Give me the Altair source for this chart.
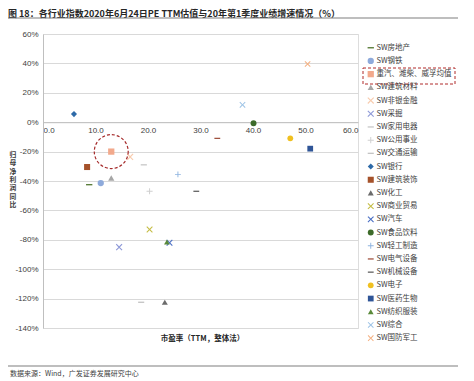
import math
import altair as alt
import pandas as pd

# ---------------- data ----------------
series = ["SW房地产", "SW钢铁", "重汽、潍柴、威孚均值", "SW建筑材料", "SW非银金融", "SW采掘",
          "SW家用电器", "SW公用事业", "SW交通运输", "SW银行", "SW建筑装饰", "SW化工",
          "SW商业贸易", "SW汽车", "SW食品饮料", "SW轻工制造", "SW电气设备", "SW机械设备",
          "SW电子", "SW医药生物", "SW纺织服装", "SW综合", "SW国防军工"]
pe = [8.8, 11.0, 13.0, 13.0, 16.6, 14.5,
      19.2, 20.3, 18.7, 5.9, 8.4, 23.2,
      20.3, 24.1, 40.1, 25.7, 33.2, 29.2,
      47.1, 50.9, 23.6, 38.0, 50.4]
growth = [-42.5, -41.4, -20.0, -38.0, -23.6, -85.0,
          -29.0, -47.0, -122.5, 5.5, -30.5, -122.5,
          -73.0, -82.0, -0.7, -35.5, -11.0, -47.0,
          -11.0, -18.0, -81.5, 11.8, 39.6]
x_ticks = [0, 10, 20, 30, 40, 50, 60]
y_ticks = [-140, -120, -100, -80, -60, -40, -20, 0, 20, 40, 60]
highlight = "重汽、潍柴、威孚均值"
title_text = "图 18：各行业指数2020年6月24日PE TTM估值与20年第1季度业绩增速情况（%）"
source_text = "数据来源：Wind，广发证券发展研究中心"
y_title = "归\n母\n净\n利\n润\n同\n比"
x_title = "市盈率（TTM，整体法）"

# ---------------- styles ----------------
def plus_pts(w, L):
    return [(-w, -L), (w, -L), (w, -w), (L, -w), (L, w), (w, w), (w, L), (-w, L),
            (-w, w), (-L, w), (-L, -w), (-w, -w)]

def to_path(pts):
    return "M" + "L".join(f"{x:.3f},{y:.3f}" for x, y in pts) + "Z"

PLUS = to_path(plus_pts(0.16, 1.0))
r2 = math.sqrt(2)
XSHAPE = to_path([((x - y) / r2, (x + y) / r2) for x, y in plus_pts(0.18, r2 * 0.95)])
DASH = "M-1,-0.22L1,-0.22L1,0.22L-1,0.22Z"

style = {
    "SW房地产": ("#5a7d3a", DASH, 40),
    "SW钢铁": ("#8eaadb", "circle", 32),
    "重汽、潍柴、威孚均值": ("#f2a98c", "square", 85),
    "SW建筑材料": ("#a6a6a6", "triangle-up", 36),
    "SW非银金融": ("#f8cbad", XSHAPE, 36),
    "SW采掘": ("#8f9ad8", XSHAPE, 50),
    "SW家用电器": ("#c9c9c9", DASH, 36),
    "SW公用事业": ("#d0d0d0", PLUS, 36),
    "SW交通运输": ("#c4c4c4", DASH, 36),
    "SW银行": ("#2e6aa8", "diamond", 32),
    "SW建筑装饰": ("#a5522a", "square", 40),
    "SW化工": ("#6b6b6b", "triangle-up", 36),
    "SW商业贸易": ("#c5bd45", XSHAPE, 40),
    "SW汽车": ("#4a6fc4", XSHAPE, 40),
    "SW食品饮料": ("#3d6b2a", "circle", 36),
    "SW轻工制造": ("#8fb4e0", PLUS, 36),
    "SW电气设备": ("#a0523f", DASH, 20),
    "SW机械设备": ("#5f5f5f", DASH, 40),
    "SW电子": ("#f0c020", "circle", 32),
    "SW医药生物": ("#2f5597", "square", 40),
    "SW纺织服装": ("#5a8a3a", "triangle-up", 36),
    "SW综合": ("#9dc3e6", XSHAPE, 40),
    "SW国防军工": ("#f4b183", XSHAPE, 40),
}
colors = [style[s][0] for s in series]
shapes = [style[s][1] for s in series]
sizes = [style[s][2] for s in series]

FONT = "Noto Sans CJK SC"
LATIN = "Liberation Sans"

df = pd.DataFrame({"series": series, "pe": pe, "growth": growth})

W, H = 315, 294
zero_offset = -H * (0 - (-140)) / 200.0  # move x axis to y=0 line

legend = alt.Legend(orient="none", legendX=324, legendY=10, title=None,
                    labelFont=FONT, labelFontSize=7.5, labelColor="#404040",
                    symbolSize=22, rowPadding=4.2, labelOffset=2, padding=0,
                    symbolStrokeWidth=0, labelLimit=200)

xenc = alt.X("pe:Q", scale=alt.Scale(domain=[0, 60], nice=False, zero=False),
             axis=alt.Axis(values=x_ticks, format=".1f", offset=zero_offset, grid=False,
                           domainColor="#bfbfbf", ticks=False, labelPadding=4,
                           labelOverlap=False,
                           labelFont=LATIN, labelFontSize=8, labelColor="#404040",
                           title=x_title, titleFont=FONT, titleFontSize=7.5,
                           titleFontWeight="bold", titleColor="#262626",
                           titleX=159, titleY=212, titleAnchor="middle"))
yenc = alt.Y("growth:Q", scale=alt.Scale(domain=[-140, 60], nice=False, zero=False),
             axis=alt.Axis(values=y_ticks, tickCount=11, labelExpr="datum.value + '%'",
                           grid=True, gridColor="#d9d9d9", domainColor="#bfbfbf",
                           ticks=False, labelOverlap=False, labelPadding=5,
                           labelFont=LATIN, labelFontSize=8, labelColor="#404040",
                           title=None))

points = alt.Chart(df).mark_point(filled=True, opacity=1, strokeWidth=0).encode(
    x=xenc, y=yenc,
    color=alt.Color("series:N", scale=alt.Scale(domain=series, range=colors), legend=legend),
    shape=alt.Shape("series:N", scale=alt.Scale(domain=series, range=shapes), legend=legend),
    size=alt.Size("series:N", scale=alt.Scale(domain=series, range=sizes), legend=None),
)

ring = alt.Chart(df).transform_filter(alt.datum.series == highlight).mark_point(
    shape="circle", filled=False, size=1150, stroke="#a52a2a", strokeWidth=1.2,
    strokeDash=[3, 2], opacity=1).encode(x=xenc, y=yenc)

one = pd.DataFrame({"t": [title_text], "s": [source_text], "yt": [y_title]})
box = alt.Chart(one).mark_rect(fill="transparent", stroke="#b02a2a", strokeWidth=1,
                               strokeDash=[3, 2]).encode(
    x=alt.value(320), x2=alt.value(412), y=alt.value(34), y2=alt.value(50))
title = alt.Chart(one).mark_text(align="left", baseline="middle", font=FONT, fontSize=9,
                                 fontWeight="bold", color="#262626").encode(
    text="t:N", x=alt.value(-35), y=alt.value(-20))
title_rule = alt.Chart(one).mark_rule(color="#7f7f7f", strokeWidth=1.2).encode(
    x=alt.value(-38), x2=alt.value(427), y=alt.value(-16))
ytitle = alt.Chart(one).mark_text(align="center", baseline="top", font=FONT, fontSize=6.8,
                                  fontWeight="bold", color="#404040", lineBreak="\n",
                                  lineHeight=8.3).encode(
    text="yt:N", x=alt.value(-30), y=alt.value(118))
src = alt.Chart(one).mark_text(align="left", baseline="middle", font=FONT, fontSize=7,
                               color="#404040").encode(
    text="s:N", x=alt.value(-33), y=alt.value(340))
src_rule = alt.Chart(one).mark_rule(color="#7f7f7f", strokeWidth=1.2).encode(
    x=alt.value(-38), x2=alt.value(427), y=alt.value(332))

chart = alt.layer(points, ring, box, title, title_rule, ytitle, src, src_rule).properties(
    width=W, height=H,
    autosize=alt.AutoSizeParams(type="none"),
    padding={"left": 35, "top": 26, "right": 100, "bottom": 50},
).configure_view(stroke=None).configure(background="white")

chart.save("out.html", embed_options={"renderer": "svg", "actions": False})
